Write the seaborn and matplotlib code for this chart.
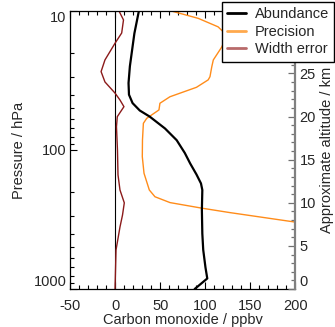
import numpy as np
import pandas as pd
import seaborn as sns
import matplotlib.pyplot as plt
from matplotlib.lines import Line2D
from matplotlib.ticker import FixedLocator, FixedFormatter, LogLocator, NullFormatter, MultipleLocator

# CO profile (pressure in hPa, values in ppbv)
abund_p = [10, 14.5, 25, 33, 40, 46, 52, 57.5, 70, 85, 105, 125, 150, 174, 194, 270, 400, 523, 700, 840, 1000]
abund_v = [26, 21, 16, 14.5, 15, 19, 27, 38, 55, 68, 77, 83, 90, 95, 96.5, 96, 96.5, 97.5, 100, 102, 88]

prec_p = [10, 11.3, 13.0, 15, 18.2, 22.5, 25.2, 29.7, 31.3, 35.4, 41.4, 46.1, 51.5, 59.2, 64.3, 84.7,
          111.7, 147, 194, 217, 239, 262, 282, 331, 360]
prec_v = [62, 92, 114, 124, 118, 108.7, 107, 105, 103, 90, 60.5, 49.4, 48.3, 34.7, 31, 30,
          29.8, 31.7, 37.6, 43.9, 60.6, 95.8, 127, 201, 235]

werr_p = [10, 11.6, 14.4, 17.1, 22.5, 27.3, 32.4, 38.9, 43.7, 48.8, 57.6, 68, 100, 151, 194, 240, 294, 358, 524, 1000]
werr_v = [3.9, 8.9, 6.9, -0.6, -11.7, -16, -11.7, -0.6, 5, 9.4, 2, 1.1, 2.2, 2.8, 5, 9.8, 7.8, 5, 0.6, -0.5]

H = 7.0  # scale height, km

sns.set_style('ticks')
plt.rcParams['font.family'] = ['Liberation Sans', 'DejaVu Sans']
plt.rcParams['font.size'] = 10.5
plt.rcParams['axes.unicode_minus'] = False

fig = plt.figure(figsize=(3.35, 3.27), dpi=100)
ax = fig.add_axes([0.2104, 0.1162, 0.6716, 0.8502])

ax.axvline(0, color='black', lw=0.8, zorder=1)

sns.lineplot(data=pd.DataFrame({'v': werr_v, 'p': werr_p}), x='v', y='p', orient='y', sort=False,
             estimator=None, color='#8b1a1a', lw=1.0, ax=ax)
sns.lineplot(data=pd.DataFrame({'v': prec_v, 'p': prec_p}), x='v', y='p', orient='y', sort=False,
             estimator=None, color='#ff8c1a', lw=1.0, ax=ax)
sns.lineplot(data=pd.DataFrame({'v': abund_v, 'p': abund_p}), x='v', y='p', orient='y', sort=False,
             estimator=None, color='black', lw=1.6, ax=ax)

ax.set_yscale('log')
ax.set_ylim(1000, 10)
ax.set_xlim(-50, 200)
ax.set_xlabel('Carbon monoxide / ppbv', labelpad=0)
ax.set_ylabel('Pressure / hPa', labelpad=5)

ax.yaxis.set_major_locator(FixedLocator([10, 100, 1000]))
ax.yaxis.set_major_formatter(FixedFormatter(['10', '100', '1000']))
ax.yaxis.set_minor_locator(LogLocator(base=10, subs=np.arange(2, 10)))
ax.yaxis.set_minor_formatter(NullFormatter())
ax.xaxis.set_major_locator(MultipleLocator(50))
ax.xaxis.set_minor_locator(MultipleLocator(10))

ax.tick_params(which='both', direction='in', top=True, right=False, color='black', width=0.8)
ax.tick_params(which='major', length=5)
ax.tick_params(which='minor', length=3)
ax.tick_params(axis='x', pad=7.5)
ax.tick_params(axis='y', pad=3)
for s in ['left', 'top', 'bottom']:
    ax.spines[s].set_color('black')
    ax.spines[s].set_linewidth(0.9)
ax.spines['right'].set_visible(False)

# keep the end labels inside the axis range
yt = ax.yaxis.get_major_ticks()
yt[0].label1.set_verticalalignment('top')      # 10
yt[-1].label1.set_verticalalignment('bottom')  # 1000

# approximate altitude: z = H ln(1000 / p), linear in log p
ax2 = ax.twinx()
ax2.set_ylim(0, H * np.log(1000.0 / 10.0))
ax2.yaxis.set_major_locator(FixedLocator([0, 5, 10, 15, 20, 25, 30]))
ax2.yaxis.set_major_formatter(FixedFormatter(['0', '5', '10', '15', '20', '25', '30']))
ax2.yaxis.set_minor_locator(MultipleLocator(1))
ax2.tick_params(which='both', direction='in', color='#707070', width=0.9, pad=3)
ax2.tick_params(which='major', length=5)
ax2.tick_params(which='minor', length=3)
ax2.yaxis.get_major_ticks()[0].label2.set_verticalalignment('bottom')
for s in ['left', 'top', 'bottom']:
    ax2.spines[s].set_visible(False)
ax2.spines['right'].set_color('#808080')
ax2.spines['right'].set_linewidth(1.6)
ax2.set_ylabel('Approximate altitude / km', labelpad=3)

handles = [Line2D([], [], color='black', lw=2),
           Line2D([], [], color='#ffa94d', lw=2),
           Line2D([], [], color='#b86a6a', lw=2)]
leg = fig.legend(handles, ['Abundance', 'Precision', 'Width error'],
                 loc='upper left', bbox_to_anchor=(222 / 335, 1 - 2 / 327),
                 frameon=True, fancybox=False, framealpha=1, edgecolor='black',
                 handlelength=1.3, handletextpad=0.6, labelspacing=0.25, borderpad=0.35,
                 borderaxespad=0)
leg.get_frame().set_linewidth(1.0)

fig.savefig('out.png', dpi=100)
